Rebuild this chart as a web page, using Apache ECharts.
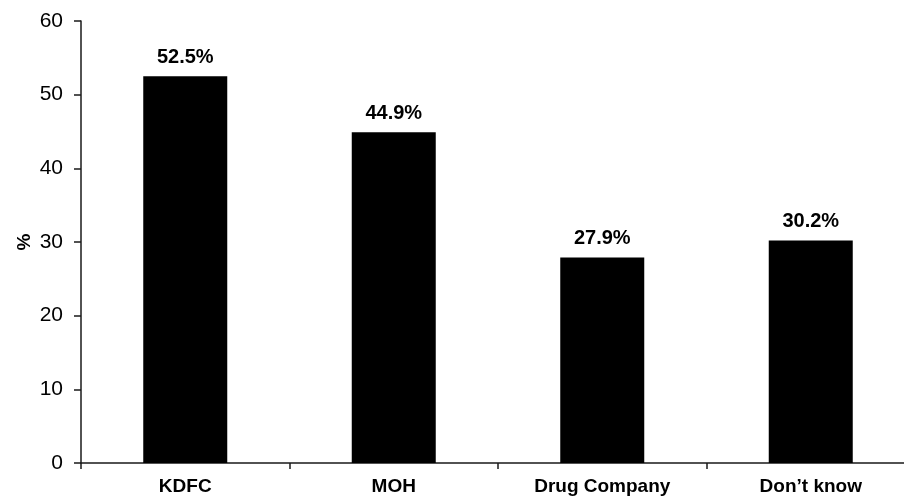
<!DOCTYPE html>
<html>
<head>
<meta charset="utf-8">
<script src="https://cdn.jsdelivr.net/npm/echarts@6/dist/echarts.min.js"></script>
<style>
  html, body { margin: 0; padding: 0; background: #fff; }
  #chart { width: 904px; height: 496px; }
</style>
</head>
<body>
<div id="chart"></div>
<script>
// Source of information, share of respondents (%)
const categories = ['KDFC', 'MOH', 'Drug Company', 'Don\u2019t know'];
const percentValues = [52.5, 44.9, 27.9, 30.2];
const yTicks = { min: 0, max: 60, interval: 10 };

const FONT = '"Liberation Sans", Arial, sans-serif';
const AXIS_COLOR = '#1a1a1a';

const chart = echarts.init(document.getElementById('chart'), null, { renderer: 'canvas' });

chart.setOption({
  animation: false,
  backgroundColor: '#ffffff',
  // plot area runs slightly past the right edge of the canvas
  grid: { left: 81, width: 834, top: 21, bottom: 33, containLabel: false, outerBoundsMode: 'none' },
  xAxis: {
    type: 'category',
    data: categories,
    boundaryGap: true,
    axisLine: { show: true, lineStyle: { color: AXIS_COLOR, width: 1.5 } },
    axisTick: { show: true, alignWithLabel: false, length: 6, lineStyle: { color: AXIS_COLOR, width: 1.5 } },
    axisLabel: {
      color: '#000', fontFamily: FONT, fontWeight: 'bold', fontSize: 19, margin: 14
    },
    splitLine: { show: false }
  },
  yAxis: {
    type: 'value',
    min: yTicks.min,
    max: yTicks.max,
    interval: yTicks.interval,
    name: '%',
    nameLocation: 'middle',
    nameGap: 47,
    nameMoveOverlap: false,
    nameRotate: 90,
    nameTextStyle: { color: '#000', fontFamily: FONT, fontWeight: 'bold', fontSize: 19 },
    axisLine: { show: true, lineStyle: { color: AXIS_COLOR, width: 1.5 } },
    axisTick: { show: true, inside: false, length: 7, lineStyle: { color: AXIS_COLOR, width: 1.5 } },
    axisLabel: { color: '#000', fontFamily: FONT, fontSize: 21, margin: 18 },
    splitLine: { show: false }
  },
  series: [{
    type: 'bar',
    data: percentValues,
    barWidth: 84,
    itemStyle: { color: '#000000' },
    label: {
      show: true,
      position: 'top',
      distance: 9,
      color: '#000',
      fontFamily: FONT,
      fontWeight: 'bold',
      fontSize: 20,
      formatter: (p) => p.value.toFixed(1) + '%'
    }
  }]
});
</script>
</body>
</html>
